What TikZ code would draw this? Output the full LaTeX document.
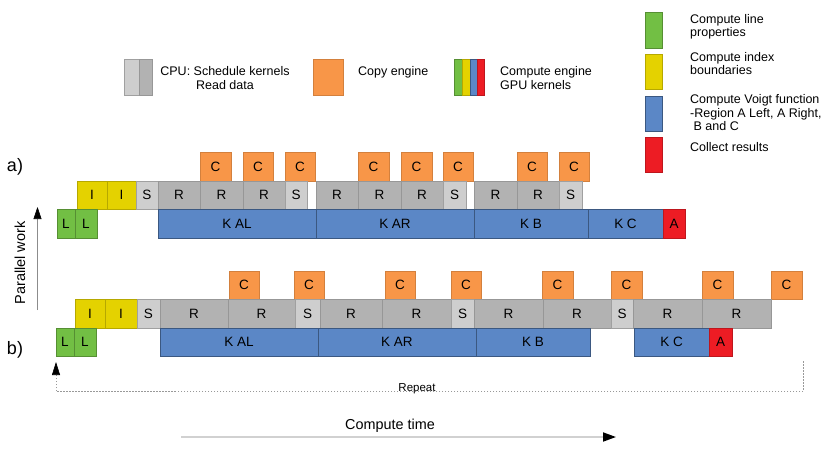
\documentclass[tikz,border=0pt]{standalone}
\usepackage{fontspec}
\setmainfont{Liberation Sans}
\usetikzlibrary{arrows.meta}
\definecolor{cgreen}{RGB}{114,191,68}
\definecolor{cyellow}{RGB}{228,210,0}
\definecolor{cblue}{RGB}{91,135,198}
\definecolor{cred}{RGB}{237,28,36}
\definecolor{corange}{RGB}{248,150,72}
\definecolor{cgrayR}{RGB}{178,178,178}
\definecolor{cgrayS}{RGB}{206,206,206}
\newcommand\blk[7]{\node[#6, minimum width={(#3-#2)*1pt}, minimum height={(#5-#4)*1pt}] (#1) at ({(#2+#3)/2},{(#4+#5)/2}) {#7};}
\begin{document}
\begin{tikzpicture}[x=1pt,y=-1pt,
  bx/.style={inner sep=0pt, outer sep=0pt, line width=0.7pt, font=\fontsize{13.5}{15}\selectfont},
  gL/.style={bx, fill=cgreen, draw=cgreen!75!black},
  yI/.style={bx, fill=cyellow, draw=cyellow!80!black},
  bK/.style={bx, fill=cblue, draw=cblue!65!black},
  rA/.style={bx, fill=cred, draw=cred!80!black},
  oC/.style={bx, fill=corange, draw=corange!85!black},
  gR/.style={bx, fill=cgrayR, draw=cgrayR!85!black},
  gS/.style={bx, fill=cgrayS, draw=cgrayR!90!black},
  legtxt/.style={font=\fontsize{12.5}{13.5}\selectfont, inner sep=0pt, align=left},
  rowlab/.style={font=\fontsize{18}{20}\selectfont, inner sep=0pt}
]
\useasboundingbox (0,0) rectangle (830,467);

% ---------------- Legend top ----------------
\blk{lgS}{124}{139}{59}{95}{gS}{}
\blk{lgR}{139}{152}{59}{95}{gR}{}
\node[legtxt, align=center] (lgcpu) at (225,78) {CPU: Schedule kernels\\Read data};
\blk{lgC}{313}{343}{59}{95}{oC}{}
\node[legtxt, anchor=west] (lgcopy) at (358,72) {Copy engine};
\blk{lgG1}{454}{462}{59}{95}{gL}{}
\blk{lgG2}{462}{470}{59}{95}{yI}{}
\blk{lgG3}{470}{477}{59}{95}{bK}{}
\blk{lgG4}{477}{484}{59}{95}{rA}{}
\node[legtxt, anchor=west] (lgce) at (500,78) {Compute engine\\GPU kernels};

% ---------------- Legend right ----------------
\blk{lrG}{645}{662}{12}{48}{gL}{}
\node[legtxt, anchor=west] (lrGt) at (690,27) {Compute line\\properties};
\blk{lrY}{645}{662}{54}{89}{yI}{}
\node[legtxt, anchor=west] (lrYt) at (690,63.5) {Compute index\\boundaries};
\blk{lrB}{645}{662}{96}{131}{bK}{}
\node[legtxt, anchor=west] (lrBt) at (690,113) {Compute Voigt function\\-Region A Left, A Right,\\\ B and C};
\blk{lrR}{645}{662}{137}{172}{rA}{}
\node[legtxt, anchor=west] (lrRt) at (690,147) {Collect results};

% ---------------- Row a ----------------
\node[rowlab] (alab) at (15,167) {a)};
% C row
\blk{aC1}{200}{231}{152}{181}{oC}{C}
\blk{aC2}{243}{273}{152}{181}{oC}{C}
\blk{aC3}{285}{315}{152}{181}{oC}{C}
\blk{aC4}{358}{389}{152}{181}{oC}{C}
\blk{aC5}{401}{432}{152}{181}{oC}{C}
\blk{aC6}{443}{473}{152}{181}{oC}{C}
\blk{aC7}{517}{547}{152}{181}{oC}{C}
\blk{aC8}{559}{589}{152}{181}{oC}{C}
% R row
\blk{aI1}{77}{107}{181}{209}{yI}{I}
\blk{aI2}{107}{136}{181}{209}{yI}{I}
\blk{aS1}{136}{158}{181}{209}{gS}{S}
\blk{aR1}{158}{200}{181}{209}{gR}{R}
\blk{aR2}{200}{243}{181}{209}{gR}{R}
\blk{aR3}{243}{285}{181}{209}{gR}{R}
\blk{aS2}{285}{307}{181}{209}{gS}{S}
\blk{aR4}{316}{358}{181}{209}{gR}{R}
\blk{aR5}{358}{401}{181}{209}{gR}{R}
\blk{aR6}{401}{443}{181}{209}{gR}{R}
\blk{aS3}{443}{466}{181}{209}{gS}{S}
\blk{aR7}{474}{517}{181}{209}{gR}{R}
\blk{aR8}{517}{559}{181}{209}{gR}{R}
\blk{aS4}{559}{582}{181}{209}{gS}{S}
% K row
\blk{aL1}{57}{75}{209}{238}{gL}{L}
\blk{aL2}{75}{97}{209}{238}{gL}{L}
\blk{aK1}{158}{316}{209}{238}{bK}{K AL}
\blk{aK2}{316}{474}{209}{238}{bK}{K AR}
\blk{aK3}{474}{588}{209}{238}{bK}{K B}
\blk{aK4}{588}{663}{209}{238}{bK}{K C}
\blk{aA}{663}{685}{209}{238}{rA}{A}

% ---------------- Row b ----------------
\node[rowlab] (blab) at (15,350) {b)};
\blk{bC1}{229}{259}{271}{299}{oC}{C}
\blk{bC2}{294}{324}{271}{299}{oC}{C}
\blk{bC3}{385}{415}{271}{299}{oC}{C}
\blk{bC4}{451}{481}{271}{299}{oC}{C}
\blk{bC5}{542}{573}{271}{299}{oC}{C}
\blk{bC6}{611}{642}{271}{299}{oC}{C}
\blk{bC7}{702}{733}{271}{299}{oC}{C}
\blk{bC8}{771}{802}{271}{299}{oC}{C}
\blk{bI1}{75}{105}{299}{328}{yI}{I}
\blk{bI2}{105}{137}{299}{328}{yI}{I}
\blk{bS1}{137}{160}{299}{328}{gS}{S}
\blk{bR1}{160}{228}{299}{328}{gR}{R}
\blk{bR2}{228}{295}{299}{328}{gR}{R}
\blk{bS2}{295}{320}{299}{328}{gS}{S}
\blk{bR3}{320}{382}{299}{328}{gR}{R}
\blk{bR4}{382}{451}{299}{328}{gR}{R}
\blk{bS3}{451}{474}{299}{328}{gS}{S}
\blk{bR5}{474}{543}{299}{328}{gR}{R}
\blk{bR6}{543}{611}{299}{328}{gR}{R}
\blk{bS4}{611}{633}{299}{328}{gS}{S}
\blk{bR7}{633}{702}{299}{328}{gR}{R}
\blk{bR8}{702}{771}{299}{328}{gR}{R}
\blk{bL1}{56}{74}{328}{356}{gL}{L}
\blk{bL2}{74}{96}{328}{356}{gL}{L}
\blk{bK1}{160}{318}{328}{356}{bK}{K AL}
\blk{bK2}{318}{476}{328}{356}{bK}{K AR}
\blk{bK3}{476}{590}{328}{356}{bK}{K B}
\blk{bK4}{634}{709}{328}{356}{bK}{K C}
\blk{bA}{709}{732}{328}{356}{rA}{A}

% ---------------- Parallel work axis ----------------
\coordinate (pwBot) at (37.5,310);
\coordinate (pwTop) at (37.5,207);
\draw[black!45, line width=0.6pt, -{Triangle[length=12pt,width=8pt,color=black]}] (pwBot) -- (pwTop);
\node[rotate=90, font=\fontsize{14.5}{16}\selectfont, inner sep=0pt] (pwlab) at (20,263) {Parallel work};

% ---------------- Repeat ----------------
\coordinate (rpL) at (56,391);
\coordinate (rpTip) at (56,362);
\coordinate (rpR) at (803,391);
\coordinate (rpRT) at (803,361);
\draw[black!40, line width=0.6pt, dash pattern=on 1.5pt off 1.5pt] (rpRT) -- (rpR) -- (rpL);
\draw[black!40, line width=0.6pt, dash pattern=on 1.5pt off 1.5pt, -{Triangle[length=13pt,width=8pt,color=black]}] (rpL) -- (rpTip);
\node[font=\fontsize{11.5}{13}\selectfont, anchor=base, inner sep=0pt] (rplab) at (417,391) {Repeat};

% ---------------- Compute time ----------------
\node[font=\fontsize{14.4}{16}\selectfont, inner sep=0pt] (ctlab) at (390,426) {Compute time};
\coordinate (ctL) at (181,437);
\coordinate (ctR) at (616,437);
\draw[black!18, line width=1.8pt, -{Triangle[length=13pt,width=9pt,color=black]}] (ctL) -- (ctR);
\end{tikzpicture}
\end{document}
